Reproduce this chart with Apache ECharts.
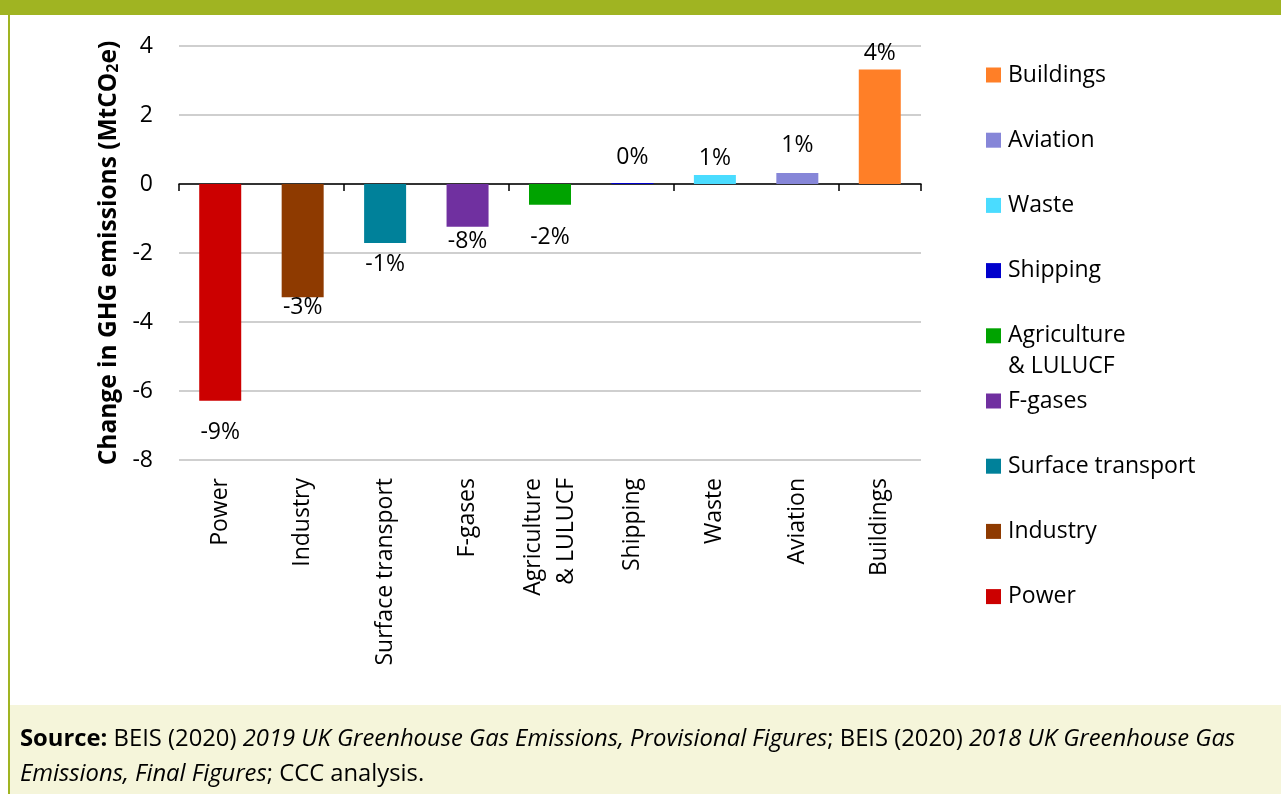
<!DOCTYPE html>
<html><head><meta charset="utf-8">
<script src="https://cdn.jsdelivr.net/npm/echarts@6/dist/echarts.min.js"></script>
<style>html,body{margin:0;padding:0;background:#fff}#c{width:1281px;height:794px}</style>
</head><body><div id="c"></div>
<script>
// ---- data ----
const categories = ['Power','Industry','Surface transport','F-gases','Agriculture & LULUCF','Shipping','Waste','Aviation','Buildings'];
const axisLabels = ['Power','Industry','Surface transport','F-gases','Agriculture\n& LULUCF','Shipping','Waste','Aviation','Buildings'];
const changeValues = [-6.28,-3.28,-1.71,-1.24,-0.60,0.03,0.26,0.32,3.32];
const pctLabels = ['-9%','-3%','-1%','-8%','-2%','0%','1%','1%','4%'];
const yTicks = [-8,-6,-4,-2,0,2,4];
const legendOrder = ['Buildings','Aviation','Waste','Shipping','Agriculture & LULUCF','F-gases','Surface transport','Industry','Power'];
const yTitle = 'Change in GHG emissions (MtCO';
const sourceLine1 = ['Source:',' BEIS (2020) ','2019 UK Greenhouse Gas Emissions, Provisional Figures','; BEIS (2020) ','2018 UK Greenhouse Gas'];
const sourceLine2 = ['Emissions, Final Figures','; CCC analysis.'];

// ---- styles ----
const colors = ['#CC0000','#8E3A00','#00819A','#7030A0','#00A300','#0000CC','#4ADCFF','#8686D8','#FF7F27'];
const labelGaps = [20.5,-1.5,9.5,3.5,21.5,14.5,5.5,16.5,4.5];
const FF = '"Open Sans", "Noto Sans", sans-serif';
const FS = 23;
const FOOT = 23.8;

const chart = echarts.init(document.getElementById('c'), null, {renderer:'canvas'});

const series = categories.map((name, i) => ({
  type: 'bar',
  name: name,
  stack: 'all',
  barWidth: 42,
  xAxisIndex: 0,
  itemStyle: {color: colors[i]},
  label: {
    show: true, position: 'outside',
    formatter: () => pctLabels[i],
    fontSize: FS, lineHeight: 23, color: '#000', fontFamily: FF
  },
  data: categories.map((c, j) => j === i ? {value: changeValues[i], label: {distance: labelGaps[i]}} : '-')
}));

const legendTop0 = 75, legendStep = 65.2;
const legends = legendOrder.map((name, k) => {
  const c = legendTop0 + legendStep * k;
  const multi = name === 'Agriculture & LULUCF';
  return {
    data: [name],
    left: 986,
    top: multi ? c - 46.5 : c - 11.5,
    orient: 'vertical',
    icon: 'rect',
    itemWidth: 15, itemHeight: 15, itemGap: 0, padding: 0,
    selectedMode: false,
    formatter: multi ? '\nAgriculture\n& LULUCF' : '{name}',
    textStyle: multi
      ? {fontSize: FS, lineHeight: 31, color: '#000', fontFamily: FF, padding: [0,0,0,2]}
      : {fontSize: FS, lineHeight: 23, color: '#000', fontFamily: FF, padding: [0,0,0,2]}
  };
});

const tok = (w, s) => ({fontFamily: FF, fontSize: FOOT, fontWeight: w, fontStyle: s, fill: '#000', color:'#000'});

const option = {
  animation: false,
  backgroundColor: '#fff',
  grid: {left: 179, right: 360, top: 46, bottom: 334, containLabel: false},
  xAxis: [
    {
      type: 'category', data: categories, position: 'bottom',
      axisLine: {onZero: true, lineStyle: {color: '#000', width: 1.5}},
      axisTick: {show: true, length: 7, lineStyle: {color: '#000', width: 1.5}},
      axisLabel: {show: false}, splitLine: {show: false}
    },
    {
      type: 'category', data: axisLabels, position: 'bottom',
      axisLine: {show: false, onZero: false}, axisTick: {show: false},
      axisLabel: {rotate: 90, fontSize: FS, lineHeight: 33, color: '#000', margin: 18, fontFamily: FF, interval: 0},
      splitLine: {show: false}
    }
  ],
  yAxis: {
    type: 'value', min: yTicks[0], max: yTicks[yTicks.length - 1], interval: 2,
    axisLine: {show: false}, axisTick: {show: false},
    axisLabel: {fontSize: FS, color: '#000', margin: 26, fontFamily: FF},
    splitLine: {lineStyle: {color: '#BFBFBF', width: 1.5}},
    name: '{t|' + yTitle + '}{s|2}{t|e)}',
    nameLocation: 'middle', nameGap: 56,
    nameTextStyle: {
      rich: {
        t: {fontSize: 24.5, fontWeight: 'bold', color: '#000', fontFamily: FF},
        s: {fontSize: 16, fontWeight: 'bold', color: '#000', fontFamily: FF, verticalAlign: 'bottom', padding: [7,0,0,0]}
      }
    }
  },
  legend: legends,
  series: series,
  graphic: [
    {type: 'rect', left: 0, top: 0, shape: {width: 1281, height: 15}, style: {fill: '#A0B422'}, z: 0},
    {type: 'rect', left: 8, top: 0, shape: {width: 2, height: 794}, style: {fill: '#A0B422'}, z: 0},
    {type: 'rect', left: 10, top: 705, shape: {width: 1271, height: 89}, style: {fill: '#F5F5DA'}, z: 0},
    {type: 'text', left: 20, top: 727, z: 10, style: {
      text: '{b|' + sourceLine1[0] + '}{n|' + sourceLine1[1] + '}{i|' + sourceLine1[2] + '}{n|' + sourceLine1[3] + '}{i|' + sourceLine1[4] + '}',
      fontFamily: FF, fontSize: FOOT, fill: '#000',
      rich: {b: tok('bold','normal'), n: tok('normal','normal'), i: tok('normal','italic')}
    }},
    {type: 'text', left: 20, top: 762, z: 10, style: {
      text: '{i|' + sourceLine2[0] + '}{n|' + sourceLine2[1] + '}',
      fontFamily: FF, fontSize: FOOT, fill: '#000',
      rich: {b: tok('bold','normal'), n: tok('normal','normal'), i: tok('normal','italic')}
    }}
  ]
};
chart.setOption(option);
</script></body></html>
